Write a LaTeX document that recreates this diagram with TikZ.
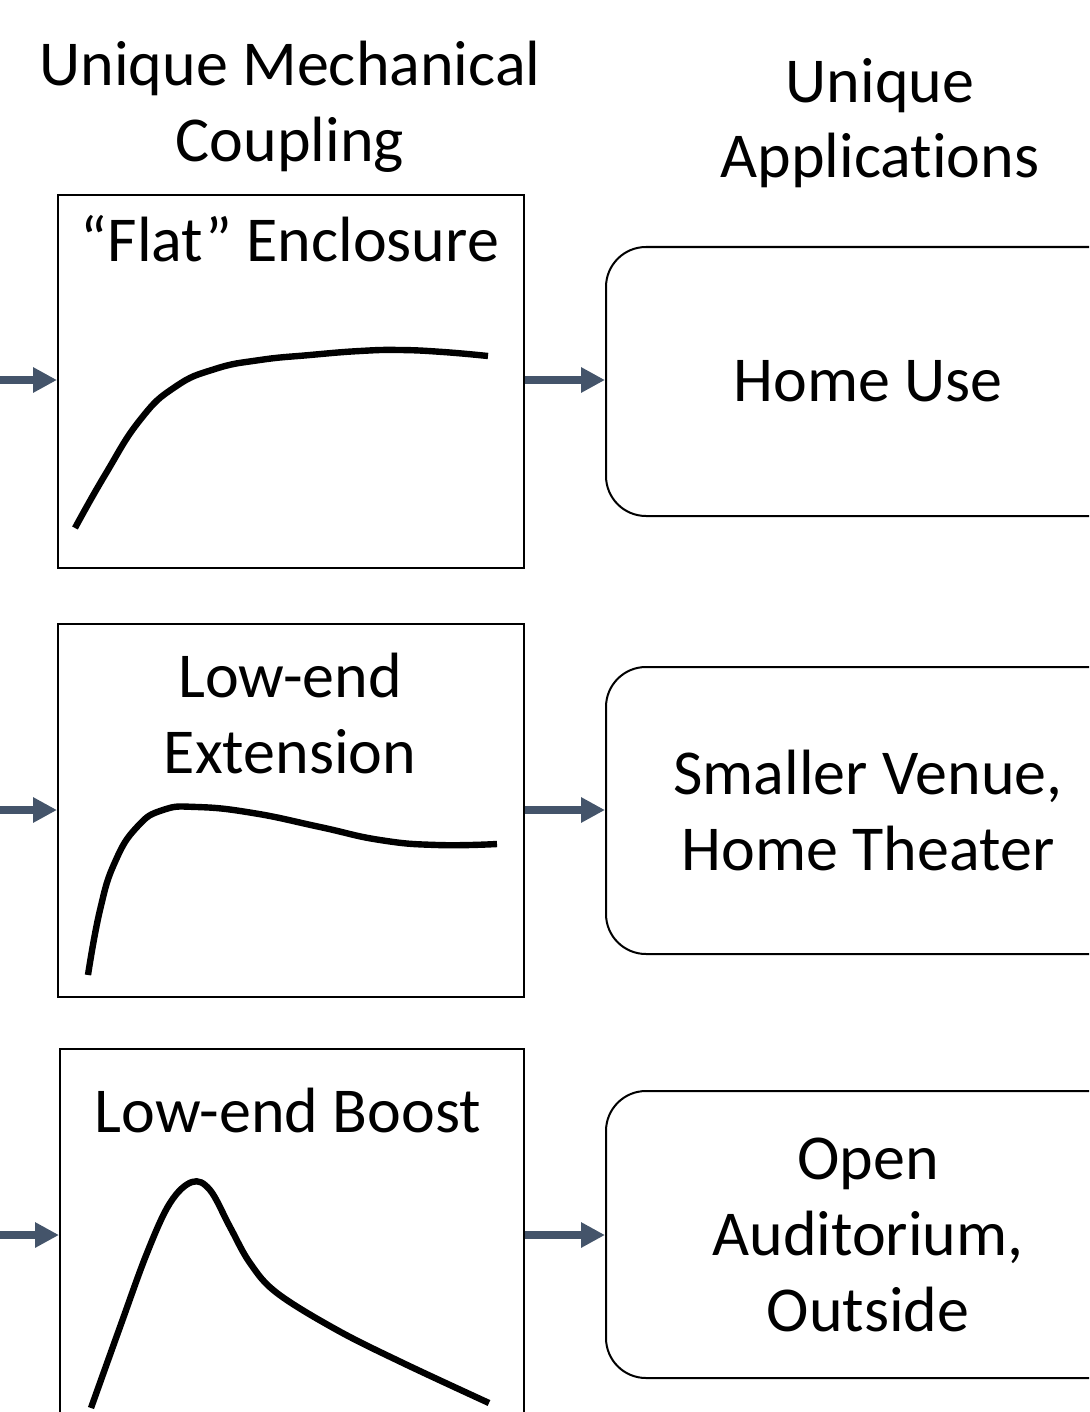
\documentclass[tikz,border=0pt]{standalone}
\usepackage{fontspec}
\setmainfont[Ligatures={TeX,NoCommon}]{Carlito}
\usetikzlibrary{arrows.meta,positioning}
\definecolor{slateblue}{HTML}{44546A}

\begin{document}
\begin{tikzpicture} [x=0.5pt,y=-0.5pt,{graphbox/.style={rectangle,draw=black,line width=1pt,inner sep=0pt,minimum width=233pt,minimum height=186.5pt}},{appbox/.style={rectangle,rounded corners=20pt,draw=black,line width=1pt,inner sep=0pt,minimum width=262pt,minimum height=143.5pt,align=center,font=\fontsize{32}{38}\selectfont}},{lbl/.style={inner sep=0pt,anchor=base,font=\fontsize{32}{38}\selectfont}},{flow/.style={-{Triangle[length=12pt,width=12pt]},line width=4pt,color=slateblue}},{curve/.style={line width=3.2pt,black}}]
	%%frame
	\useasboundingbox (0,0) rectangle (1089,1412);
	\clip (0,0) rectangle (1089,1412);

	%%headings
	\node [lbl] (mech1) at (290,86) {Unique Mechanical};
	\node [lbl] (mech2) at (290,162) {Coupling};
	\node [lbl] (app1) at (880,103) {Unique};
	\node [lbl] (app2) at (880,178) {Applications};

	%%coupling boxes
	\node [graphbox] (flat) at (291,381.5) {};
	\node [graphbox] (ext) at (291,810.5) {};
	\node [graphbox,minimum width=232pt,minimum height=195.5pt] (boost) at (292,1244.5) {};
	\node [lbl] (flatT) at (290,262) {“Flat” Enclosure};
	\node [lbl] (extT1) at (290,697) {Low-end};
	\node [lbl] (extT2) at (290,773) {Extension};
	\node [lbl] (boostT) at (288,1132) {Low-end Boost};

	%%application boxes
	\node [appbox,minimum height=134.5pt] (home) at (868,381.5) {Home Use};
	\node [appbox] (venue) at (868,810.5) {Smaller Venue,\\Home Theater};
	\node [appbox] (open) at (868,1234.5) {Open\\Auditorium,\\Outside};

	%%responses
	\draw [curve] plot [smooth,tension=0.8] coordinates {(75,528) (105,475) (140,420) (175,387) (215,369) (260,360) (310,355) (360,351) (400,350) (443,352) (488,356)};
	\draw [curve] plot [smooth,tension=0.8] coordinates {(88,975) (100,910) (115,862) (137,827) (163,810) (197,807) (253,813) (320,827) (380,840) (437,845) (497,844)};
	\draw [curve] plot [smooth,tension=0.6] coordinates {(91,1408) (120,1327) (147,1253) (170,1203) (192,1182) (210,1190) (230,1227) (250,1263) (277,1293) (337,1330) (403,1363) (489,1403)};

	%%arrows
	\coordinate (in1) at (0,380);
	\coordinate (in2) at (0,810);
	\coordinate (in3) at (0,1235);
	\draw [flow] (in1) -- (flat.west |- in1);
	\draw [flow] (in2) -- (ext.west |- in2);
	\draw [flow] (in3) -- (boost.west |- in3);
	\draw [flow] (flat.east |- in1) -- (home.west |- in1);
	\draw [flow] (ext.east |- in2) -- (venue.west |- in2);
	\draw [flow] (boost.east |- in3) -- (open.west |- in3);
\end{tikzpicture}
\end{document}
